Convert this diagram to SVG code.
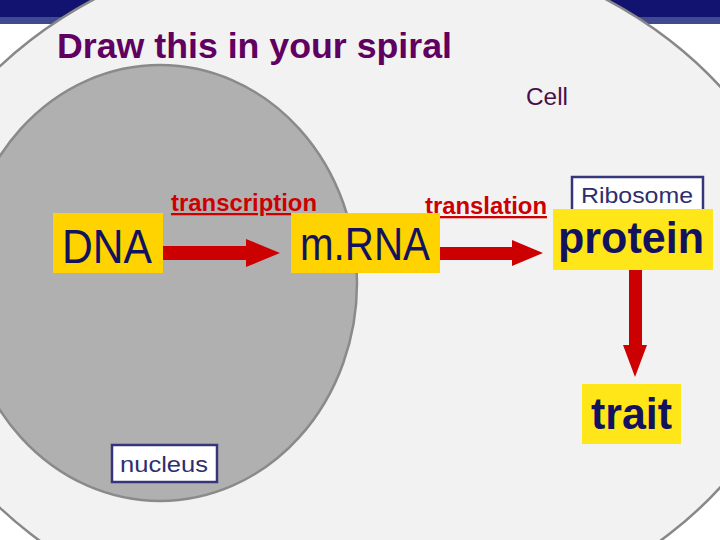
<svg xmlns="http://www.w3.org/2000/svg" width="720" height="540" viewBox="0 0 720 540">
<style>
.box{fill:#FFD300}
.box2{fill:#FFE619}
.lbl{font-family:"Liberation Sans",Arial,sans-serif;fill:#12125e}
.tag{fill:#ffffff;stroke:#35357a;stroke-width:2.5}
.tagt{font-family:"Liberation Sans",Arial,sans-serif;fill:#2e2e6e;font-size:22px}
.red{font-family:"Liberation Sans",Arial,sans-serif;fill:#cc0000;font-weight:bold;font-size:23px;text-decoration:underline}
.arr{fill:#cc0000}
</style>
<rect x="0" y="0" width="720" height="540" fill="#ffffff"/>
<rect x="0" y="0" width="720" height="17" fill="#121270"/>
<rect x="0" y="17" width="720" height="7" fill="#3f4a8f"/>
<g id="cell">
<ellipse cx="350" cy="287" rx="452" ry="349" fill="#f2f2f2" stroke="#888888" stroke-width="2.5"/>
<text x="526" y="105" font-family="Liberation Sans, Arial, sans-serif" font-size="23" fill="#4b0f47" textLength="42" lengthAdjust="spacingAndGlyphs">Cell</text>
</g>
<g id="nucleus">
<ellipse cx="160" cy="283" rx="197" ry="218" fill="#b0b0b0" stroke="#8a8a8a" stroke-width="2.5"/>
<rect class="tag" x="112" y="445" width="105" height="37"/>
<text class="tagt" x="120" y="472" font-size="23" textLength="88" lengthAdjust="spacingAndGlyphs">nucleus</text>
</g>
<text id="title" x="57" y="58" font-family="Liberation Sans, Arial, sans-serif" font-weight="bold" font-size="35" fill="#600060" textLength="395" lengthAdjust="spacingAndGlyphs">Draw this in your spiral</text>
<g id="connectors">
<polygon class="arr" points="163,246 246,246 246,239 280,253 246,267 246,260 163,260"/>
<polygon class="arr" points="440,247 512,247 512,240 543,253 512,266 512,260 440,260"/>
<polygon class="arr" points="629,270 642,270 642,345 647,345 635,377 623,345 629,345"/>
<text class="red" x="171" y="211" textLength="146" lengthAdjust="spacingAndGlyphs">transcription</text>
<text class="red" x="425" y="214" textLength="122" lengthAdjust="spacingAndGlyphs">translation</text>
</g>
<g id="dna">
<rect class="box" x="53" y="213" width="110" height="60"/>
<text class="lbl" x="62" y="263" font-size="48" textLength="90" lengthAdjust="spacingAndGlyphs">DNA</text>
</g>
<g id="mrna">
<rect class="box" x="291" y="213" width="149" height="60"/>
<text class="lbl" x="300" y="260" font-size="46" textLength="130" lengthAdjust="spacingAndGlyphs">m.RNA</text>
</g>
<g id="ribosome">
<rect class="tag" x="572" y="177" width="131" height="36"/>
<text class="tagt" x="581" y="203" textLength="112" lengthAdjust="spacingAndGlyphs">Ribosome</text>
</g>
<g id="protein">
<rect class="box2" x="553" y="209" width="160" height="61"/>
<text class="lbl" x="558" y="253" font-size="45" font-weight="bold" textLength="146" lengthAdjust="spacingAndGlyphs">protein</text>
</g>
<g id="trait">
<rect class="box2" x="582" y="384" width="99" height="60"/>
<text class="lbl" x="591" y="429" font-size="44" font-weight="bold" textLength="81" lengthAdjust="spacingAndGlyphs">trait</text>
</g>
</svg>
